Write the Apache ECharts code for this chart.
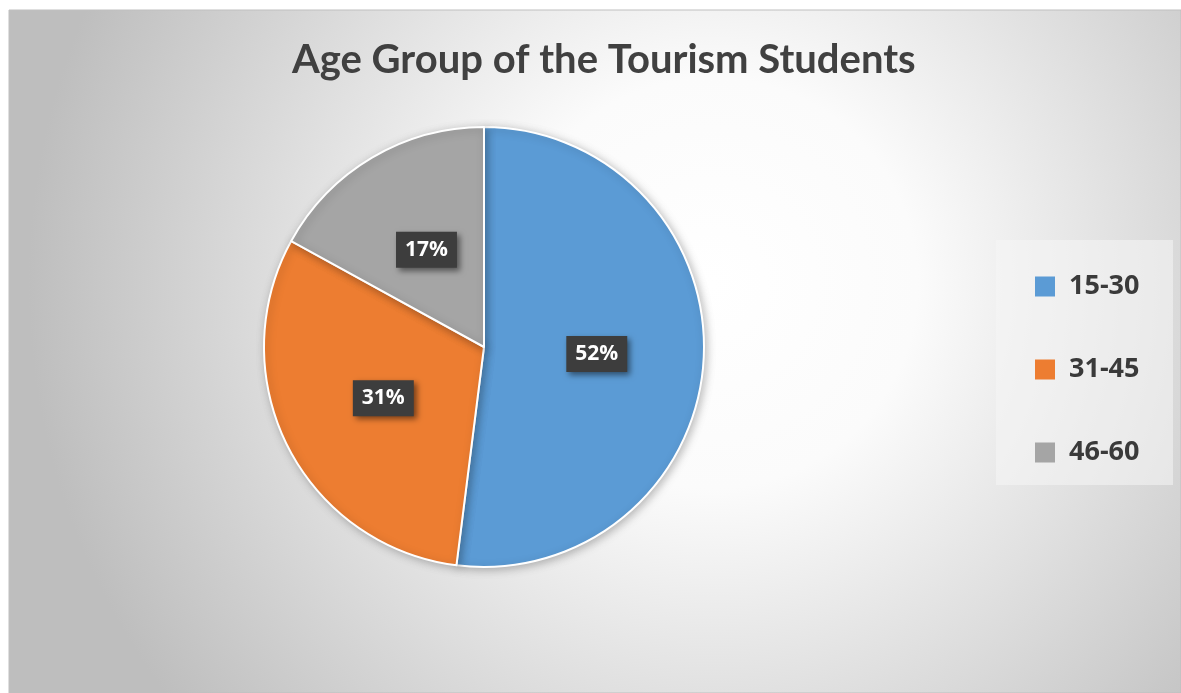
<!DOCTYPE html>
<html>
<head>
<meta charset="utf-8">
<script src="https://cdn.jsdelivr.net/npm/echarts@6/dist/echarts.min.js"></script>
<style>
  html, body { margin: 0; padding: 0; background: #fff; }
  #chart { width: 1181px; height: 693px; }
</style>
</head>
<body>
<div id="chart"></div>
<script>
// age groups and their shares (%)
const categories = ['15-30', '31-45', '46-60'];
const shares = [52, 31, 17];
const colors = ['#5b9bd5', '#ed7d31', '#a5a5a5'];

const chart = echarts.init(document.getElementById('chart'));

const option = {
  animation: false,
  graphic: [
    {
      type: 'rect',
      z: -10,
      shape: {x: 9, y: 10, width: 1172, height: 683},
      style: {
        fill: new echarts.graphic.RadialGradient(0.6, 0.4, 1.0, [
          {offset: 0, color: '#ffffff'},
          {offset: 0.3, color: '#fbfbfb'},
          {offset: 1, color: '#bebebe'}
        ]),
        stroke: '#bfbfbf',
        lineWidth: 1
      }
    },
    {
      type: 'rect',
      z: -5,
      shape: {x: 996, y: 240, width: 177, height: 245},
      style: {fill: 'rgba(245,245,245,0.55)'}
    }
  ],
  title: {
    text: 'Age Group of the Tourism Students',
    left: 287,
    top: 35,
    textStyle: {
      fontFamily: 'Lato',
      fontWeight: 'bold',
      fontSize: 40,
      color: '#404040'
    }
  },
  legend: {
    orient: 'vertical',
    left: 1030,
    top: 268,
    itemWidth: 20,
    itemHeight: 20,
    itemGap: 56,
    icon: 'rect',
    itemStyle: {borderWidth: 0},
    data: categories,
    textStyle: {
      fontFamily: 'Open Sans',
      fontWeight: 'bold',
      fontSize: 27,
      lineHeight: 26,
      color: '#3a3a3a',
      padding: [0, 0, 0, 9]
    }
  },
  series: [{
    type: 'pie',
    center: [484, 347],
    radius: 220,
    startAngle: 90,
    clockwise: true,
    color: colors,
    itemStyle: {
      borderColor: '#ffffff',
      borderWidth: 2,
      shadowBlur: 8,
      shadowColor: 'rgba(0,0,0,0.25)',
      shadowOffsetX: 2,
      shadowOffsetY: 2
    },
    label: {
      show: true,
      position: 'inside',
      formatter: '{d}%',
      fontFamily: 'Open Sans',
      fontWeight: 'bold',
      fontSize: 21,
      color: '#ffffff',
      backgroundColor: '#3d3d3d',
      padding: [8, 9, 7, 9],
      shadowBlur: 6,
      shadowColor: 'rgba(0,0,0,0.5)',
      shadowOffsetX: 3,
      shadowOffsetY: 3
    },
    labelLine: {show: false},
    emphasis: {disabled: true},
    data: categories.map((name, i) => ({name, value: shares[i]}))
  }]
};

chart.setOption(option);
</script>
</body>
</html>
